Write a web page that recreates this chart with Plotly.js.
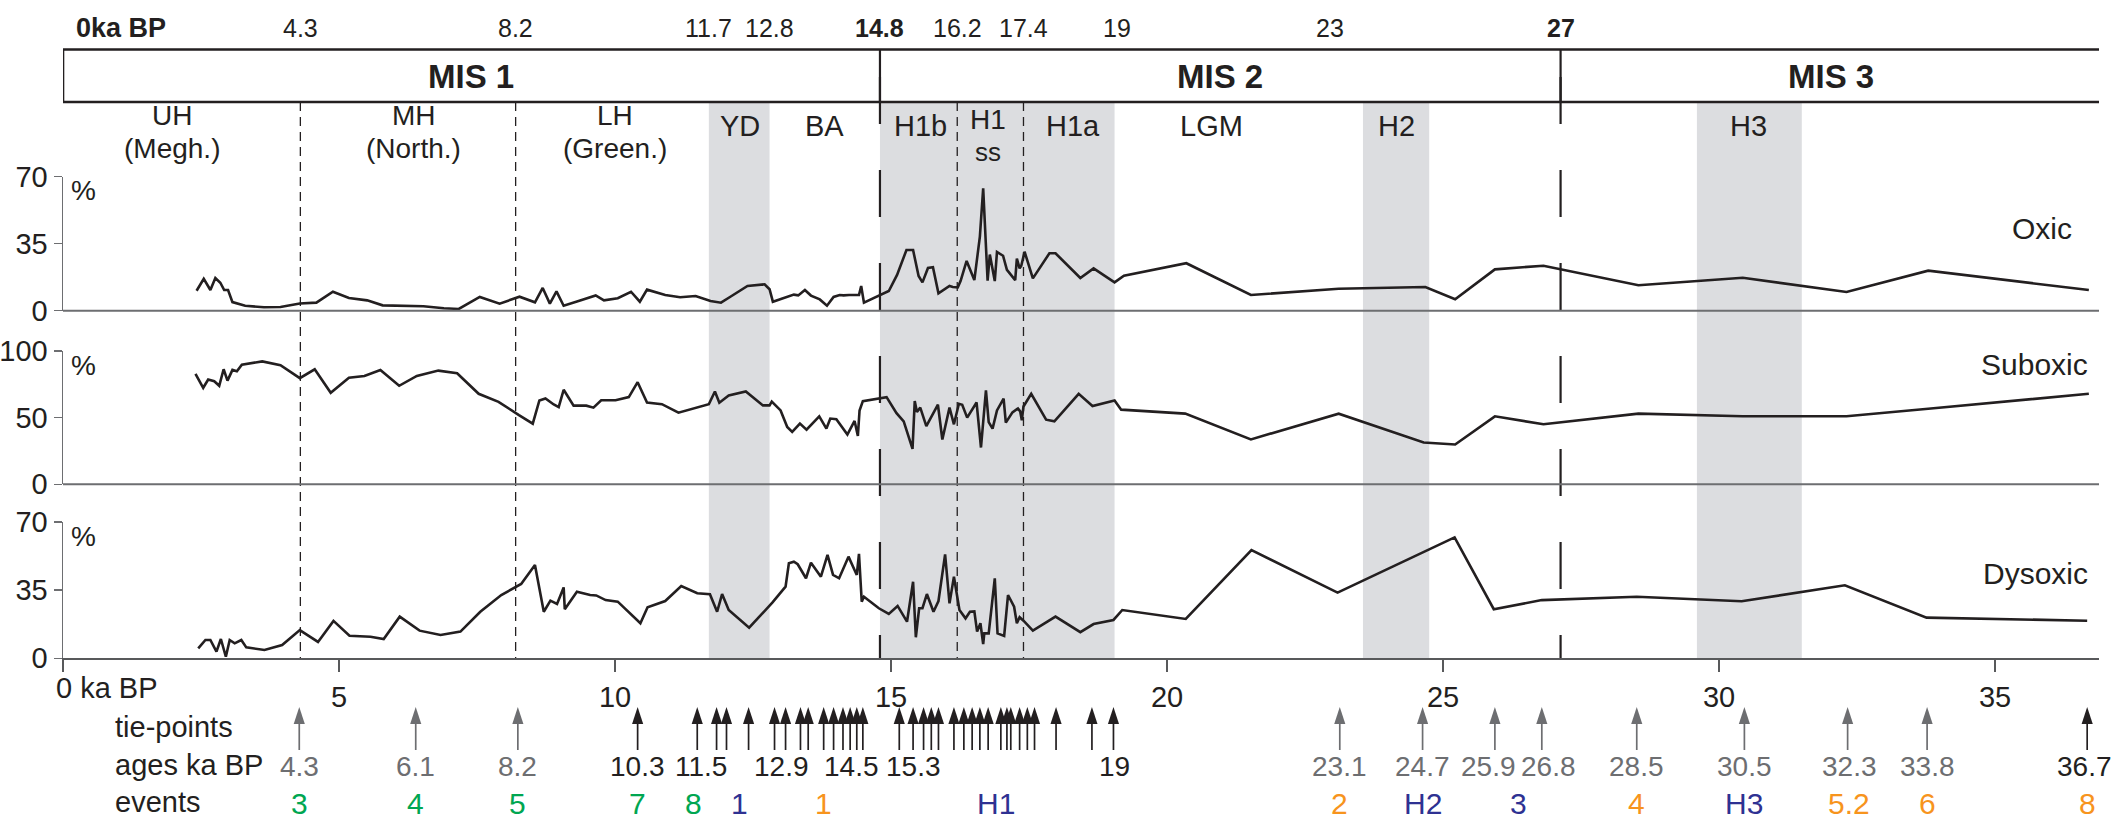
<!DOCTYPE html>
<html>
<head>
<meta charset="utf-8">
<script src="https://cdn.plot.ly/plotly-3.0.1.min.js"></script>
<style>html,body{margin:0;padding:0;background:#fff}#chart{width:2112px;height:827px}</style>
</head>
<body>
<div id="chart"></div>
<script>
// ---------------- DATA ----------------
const oxicAge = [2.42,2.55,2.67,2.76,2.85,2.92,2.99,3.07,3.30,3.64,3.94,4.29,4.59,4.89,5.18,5.51,5.79,6.17,6.53,6.90,7.17,7.55,7.91,8.27,8.55,8.69,8.82,8.94,9.07,9.34,9.65,9.80,10.05,10.29,10.45,10.58,10.91,11.18,11.46,11.73,11.92,12.09,12.40,12.71,12.80,12.86,13.24,13.32,13.44,13.55,13.71,13.84,13.96,14.07,14.14,14.24,14.42,14.46,14.51,14.96,15.11,15.28,15.40,15.50,15.57,15.67,15.76,15.86,16.06,16.12,16.21,16.26,16.37,16.51,16.61,16.67,16.75,16.79,16.88,16.92,17.03,17.10,17.25,17.28,17.33,17.36,17.42,17.57,17.87,17.98,18.43,18.67,19.05,19.22,20.35,21.52,23.11,24.68,25.22,25.94,26.82,28.54,30.43,32.31,33.79,36.70];
const oxicPct = [10.4,16.7,10.8,17.1,14.6,10.8,10.8,4.5,2.6,1.8,1.9,3.8,4.2,9.9,6.6,5.4,2.8,2.6,2.3,1.3,0.9,7.2,3.7,7.3,4.4,11.9,3.7,10.1,2.6,5.1,8.0,5.4,6.5,9.9,4.7,11.0,8.2,7.0,7.7,5.1,4.2,7.3,12.9,13.8,11.2,4.7,8.4,8.0,10.8,7.9,5.9,2.6,7.2,8.2,8.0,8.2,8.2,12.9,4.2,10.3,18.7,31.7,31.7,18.1,14.8,22.3,22.7,9.1,12.9,12.4,12.2,15.5,26.0,16.0,38.7,63.9,15.7,29.3,15.5,30.7,28.7,21.3,16.0,27.2,22.1,23.5,30.8,16.9,30.0,30.0,17.1,22.1,14.8,18.3,24.8,8.2,11.5,12.4,6.0,21.6,23.5,13.3,17.2,9.8,20.9,10.8];

const suboxicAge = [2.40,2.54,2.63,2.74,2.83,2.91,2.98,3.07,3.15,3.24,3.61,3.94,4.29,4.56,4.85,5.18,5.46,5.75,6.09,6.41,6.80,7.14,7.53,7.89,8.26,8.51,8.63,8.74,8.89,8.98,9.07,9.25,9.48,9.61,9.75,10.01,10.25,10.41,10.58,10.85,11.15,11.70,11.81,11.89,12.06,12.37,12.68,12.80,12.84,13.00,13.12,13.21,13.35,13.47,13.70,13.83,13.90,14.01,14.21,14.34,14.40,14.43,14.49,14.92,15.10,15.23,15.39,15.43,15.47,15.53,15.64,15.85,15.93,16.06,16.14,16.23,16.29,16.38,16.55,16.63,16.72,16.77,16.84,16.92,17.04,17.08,17.20,17.30,17.34,17.37,17.40,17.54,17.81,17.96,18.40,18.65,19.05,19.17,20.33,21.52,23.11,24.65,25.22,25.94,26.82,28.54,30.43,32.31,33.79,36.70];
const suboxicPct = [82.8,72.4,78.6,77.3,73.9,86.3,77.8,85.8,84.8,89.8,92.2,89.3,79.6,86.3,68.7,79.9,81.3,85.8,73.9,81.3,85.3,83.3,67.9,61.9,51.9,45.5,62.9,64.4,59.9,57.9,70.9,59.0,59.0,57.5,63.1,63.1,65.4,76.6,61.4,60.1,53.7,60.1,69.6,61.2,66.6,69.6,59.2,59.2,62.0,55.4,43.0,39.3,45.5,41.0,51.0,41.8,49.3,48.8,37.3,47.5,36.3,55.4,62.4,65.4,53.4,47.2,26.6,62.4,54.2,57.5,43.7,59.7,33.6,57.5,45.0,60.4,59.7,50.0,61.4,27.6,70.4,46.7,41.8,55.4,64.2,46.3,54.0,56.9,54.7,48.0,58.4,67.9,48.5,47.2,67.9,58.7,62.9,56.0,53.0,33.7,53.0,31.3,29.9,51.0,45.0,53.0,51.0,51.0,56.7,67.9];

const dysoxicAge = [2.45,2.58,2.67,2.78,2.86,2.95,3.02,3.11,3.23,3.32,3.65,3.97,4.29,4.62,4.90,5.19,5.57,5.81,6.10,6.46,6.84,7.20,7.56,7.94,8.30,8.55,8.71,8.83,8.95,9.07,9.09,9.31,9.55,9.66,9.83,10.05,10.46,10.59,10.91,11.20,11.49,11.72,11.85,11.94,12.06,12.43,12.85,13.09,13.15,13.24,13.31,13.46,13.55,13.73,13.85,13.95,14.06,14.23,14.38,14.42,14.47,14.51,14.78,14.96,15.12,15.29,15.40,15.45,15.51,15.57,15.65,15.77,15.86,15.98,16.06,16.14,16.24,16.35,16.43,16.51,16.56,16.62,16.67,16.69,16.77,16.88,16.93,17.05,17.12,17.23,17.28,17.33,17.40,17.57,17.98,18.43,18.67,19.03,19.19,20.34,21.53,23.09,25.21,25.92,26.79,28.51,30.41,32.28,33.76,36.67];
const dysoxicPct = [5.1,9.4,9.4,3.4,9.9,0.8,9.4,7.7,9.4,5.6,4.3,6.8,14.5,8.4,19.2,11.6,11.1,9.9,21.4,14.2,12.0,13.7,23.9,32.5,38.2,47.9,23.9,29.6,27.9,36.4,25.2,34.2,32.5,32.3,29.9,29.1,18.0,26.2,29.4,37.1,33.4,32.9,23.9,33.0,24.8,15.7,28.6,36.8,48.8,49.6,48.3,41.1,49.1,41.9,53.1,42.8,41.1,52.2,42.8,53.6,29.1,31.6,25.7,22.8,26.9,18.8,39.3,10.8,25.7,25.7,33.0,23.9,29.4,53.4,28.2,41.9,24.8,20.5,23.9,24.1,13.7,18.0,7.3,12.8,12.8,41.1,12.8,11.5,32.5,26.5,18.0,21.1,19.3,14.2,21.4,13.4,17.6,19.7,24.8,20.2,55.6,33.7,62.1,25.2,29.9,31.6,29.3,37.5,20.9,19.3];

const xTicks = [0,5,10,15,20,25,30,35];
const oxicTicks = [0,35,70];
const suboxicTicks = [0,50,100];
const dysoxicTicks = [0,35,70];

const misText = ['MIS 1','MIS 2','MIS 3'];
const misBounds = [0,14.8,27.13,36.92];

const topAgeText = ['0ka BP','4.3','8.2','11.7','12.8','14.8','16.2','17.4','19','23','27'];
const topAgeAt   = [0,4.3,8.2,11.7,12.8,14.8,16.2,17.4,19.1,22.96,27.13];
const topAgeBold = [true,false,false,false,false,true,false,false,false,false,true];

const periodLine1 = ['UH','MH','LH','YD','BA','H1b','H1','H1a','LGM','H2','H3'];
const periodLine2 = ['(Megh.)','(North.)','(Green.)','','','','ss','','','',''];
const periodAt    = [1.98,6.35,10.0,12.27,13.8,15.53,16.76,18.3,20.8,24.16,30.53];

const greyBands = [[11.7,12.8],[14.8,19.05],[23.55,24.75],[29.6,31.5]];
const thinDashed = [4.3,8.2,16.2,17.4];

const tieGrey  = [4.28,6.39,8.24,23.13,24.63,25.94,26.79,28.51,30.46,32.33,33.77];
const tieBlack = [10.41,11.49,11.84,12.02,12.42,12.89,13.09,13.36,13.50,13.78,13.96,14.13,14.26,14.38,14.49,15.15,15.40,15.59,15.73,15.86,16.14,16.32,16.47,16.61,16.76,16.99,17.10,17.17,17.33,17.47,17.60,17.99,18.64,19.03,36.67];

const ageText = ['4.3','6.1','8.2','10.3','11.5','12.9','14.5','15.3','19','23.1','24.7','25.9','26.8','28.5','30.5','32.3','33.8','36.7'];
const ageAt   = [4.28,6.39,8.24,10.41,11.55,13.02,14.28,15.41,19.05,23.13,24.63,25.82,26.92,28.51,30.46,32.36,33.77,36.62];
const ageGrey = [true,true,true,false,false,false,false,false,false,true,true,true,true,true,true,true,true,false];

const eventText  = ['3','4','5','7','8','1','1','H1','2','H2','3','4','H3','5.2','6','8'];
const eventAt    = [4.28,6.39,8.24,10.41,11.43,12.26,13.78,16.9,23.13,24.63,26.37,28.51,30.46,32.36,33.77,36.67];
const eventGroup = ['g','g','g','g','g','b','o','b','o','b','b','o','b','o','o','o'];

const panelNames = ['Oxic','Suboxic','Dysoxic'];

// ---------------- STYLE / LAYOUT ----------------
const W = 2112, H = 827, ML = 63, MR = 13;
const PX_PER_KA = 55.2;
const XMAX = (W - MR - ML) / PX_PER_KA;
const py = Y => 1 - Y / H;           // pixel row -> paper fraction
const FONT = "'Liberation Sans Narrow', 'Arial Narrow', 'Liberation Sans', Arial, sans-serif";
const FONT_WIDE = "'Liberation Sans', Arial, Helvetica, sans-serif";
const INK = '#231f20', GREY = '#6d6e71';
const EVC = {g:'#00a651', b:'#2e3192', o:'#f7941d'};

const panels = {
  oxic:    {zero:310.7, top:176.7},
  suboxic: {zero:484.3, top:351.0},
  dysoxic: {zero:658.3, top:522.0}
};
const BOX_TOP = 49.5, BOX_BOT = 102, ZONE_BOT = panels.dysoxic.zero;

const lineStyle = {color: INK, width: 2.6};
const traces = [
  {x: dysoxicAge, y: dysoxicPct, xaxis:'x', yaxis:'y',  mode:'lines', line: lineStyle, hoverinfo:'skip'},
  {x: suboxicAge, y: suboxicPct, xaxis:'x', yaxis:'y2', mode:'lines', line: lineStyle, hoverinfo:'skip'},
  {x: oxicAge,    y: oxicPct,    xaxis:'x', yaxis:'y3', mode:'lines', line: lineStyle, hoverinfo:'skip'}
];

const ARROW_TIP = 707, ARROW_BASE = 750;
function arrowTraces(list, color) {
  const xs = [], ys = [];
  list.forEach(t => { xs.push(t, t, null); ys.push(ARROW_BASE, ARROW_TIP + 8, null); });
  return [
    {x: xs, y: ys, xaxis:'x', yaxis:'y4', mode:'lines', line:{color: color, width:1.7}, hoverinfo:'skip'},
    {x: list, y: list.map(() => ARROW_TIP), xaxis:'x', yaxis:'y4', mode:'markers',
     marker:{symbol:'arrow', angle:0, size:18, color: color, line:{width:0}}, hoverinfo:'skip', cliponaxis:false}
  ];
}
traces.push(...arrowTraces(tieGrey, GREY), ...arrowTraces(tieBlack, INK));

const shapes = [];
greyBands.forEach(b => shapes.push({type:'rect', xref:'x', yref:'paper', x0:b[0], x1:b[1],
  y0: py(ZONE_BOT), y1: py(BOX_BOT), fillcolor:'#dcdde0', line:{width:0}, layer:'below'}));
thinDashed.forEach(v => shapes.push({type:'line', xref:'x', yref:'paper', x0:v, x1:v,
  y0: py(BOX_BOT), y1: py(ZONE_BOT), line:{color:INK, width:1.3, dash:'9px,6px'}, layer:'below'}));
misBounds.slice(1, -1).forEach(v => {
  shapes.push({type:'line', xref:'x', yref:'paper', x0:v, x1:v, y0: py(77), y1: py(ZONE_BOT),
    line:{color:INK, width:2.2, dash:'47px,46px'}, layer:'below'});
  shapes.push({type:'line', xref:'x', yref:'paper', x0:v, x1:v, y0: py(BOX_TOP), y1: py(BOX_BOT),
    line:{color:INK, width:2.2}});
});
shapes.push({type:'rect', xref:'x', yref:'paper', x0: misBounds[0], x1: misBounds[3],
  y0: py(BOX_BOT), y1: py(BOX_TOP), line:{color:INK, width:2.6}, fillcolor:'rgba(0,0,0,0)'});
[panels.oxic.zero, panels.suboxic.zero].forEach(z => shapes.push({type:'line', xref:'paper', yref:'paper',
  x0:0, x1:1, y0: py(z), y1: py(z), line:{color:GREY, width:2}}));

const ann = [];
function txt(text, x, Y, size, color, opts, fam) {
  ann.push(Object.assign({text: text, x: x, y: py(Y), xref:'x', yref:'paper', showarrow:false,
    font:{family: fam || FONT, size: size, color: color || INK}, xanchor:'center', yanchor:'middle'}, opts || {}));
}
topAgeText.forEach((t, i) => {
  const s = topAgeBold[i] ? '<b>' + t + '</b>' : t;
  if (i === 0) txt(s, 0.2, 28, 27, INK, {xanchor:'left'});
  else txt(s, topAgeAt[i], 28, 25);
});
misText.forEach((t, i) => txt('<b>' + t + '</b>', (misBounds[i] + misBounds[i + 1]) / 2, 77, 33, INK, {}, FONT_WIDE));
periodLine1.forEach((t, i) => {
  const second = periodLine2[i];
  if (!second) { txt(t, periodAt[i], 126, 29); return; }
  if (second === 'ss') { txt(t, periodAt[i], 120, 28); txt(second, periodAt[i], 152, 26); return; }
  txt(t, periodAt[i], 116, 28);
  txt(second, periodAt[i], 149, 28);
});
txt(panelNames[0], 35.85, 228, 30);
txt(panelNames[1], 36.72, 364, 30, INK, {xanchor:'right'});
txt(panelNames[2], 36.72, 573, 30, INK, {xanchor:'right'});
[panels.oxic, panels.suboxic, panels.dysoxic].forEach(p => txt('%', 0.38, p.top + 14, 28));
txt('0 ka BP', 0, 688, 29, INK, {xanchor:'left', xshift:-9});
txt('tie-points', 0.9, 727, 29, INK, {xanchor:'left'});
txt('ages ka BP', 0.9, 765, 29, INK, {xanchor:'left'});
txt('events', 0.9, 802, 29, INK, {xanchor:'left'});
ageText.forEach((t, i) => txt(t, ageAt[i], 766, 28, ageGrey[i] ? GREY : INK));
eventText.forEach((t, i) => txt(t, eventAt[i], 803, 30, EVC[eventGroup[i]]));

const yBase = {showgrid:false, zeroline:false, showline:true, linecolor:GREY, linewidth:1.5,
  ticks:'outside', ticklen:8, tickwidth:1.5, tickcolor:GREY, anchor:'x', fixedrange:true,
  tickfont:{family:FONT, size:29, color:INK}};
const dom = p => [py(p.zero), py(p.top)];

const layout = {
  width: W, height: H, margin:{l:ML, r:MR, t:0, b:0, pad:0},
  paper_bgcolor:'#ffffff', plot_bgcolor:'rgba(0,0,0,0)', showlegend:false,
  xaxis: {range:[0, XMAX], anchor:'y', showgrid:false, zeroline:false, showline:true,
    linecolor:'#58595b', linewidth:2, ticks:'outside', ticklen:12, tickwidth:1.5, tickcolor:'#58595b',
    tickvals: xTicks, ticktext: xTicks.map(v => v === 0 ? '' : String(v)),
    tickfont:{family:FONT, size:29, color:INK}, fixedrange:true},
  yaxis:  Object.assign({}, yBase, {domain: dom(panels.dysoxic), range:[0, 70],  tickvals: dysoxicTicks}),
  yaxis2: Object.assign({}, yBase, {domain: dom(panels.suboxic), range:[0, 100], tickvals: suboxicTicks}),
  yaxis3: Object.assign({}, yBase, {domain: dom(panels.oxic),    range:[0, 70],  tickvals: oxicTicks}),
  yaxis4: {domain:[0, 1], range:[H, 0], visible:false, anchor:'x', fixedrange:true},
  shapes: shapes,
  annotations: ann
};

Plotly.newPlot('chart', traces, layout, {staticPlot:true, displayModeBar:false});
</script>
</body>
</html>
